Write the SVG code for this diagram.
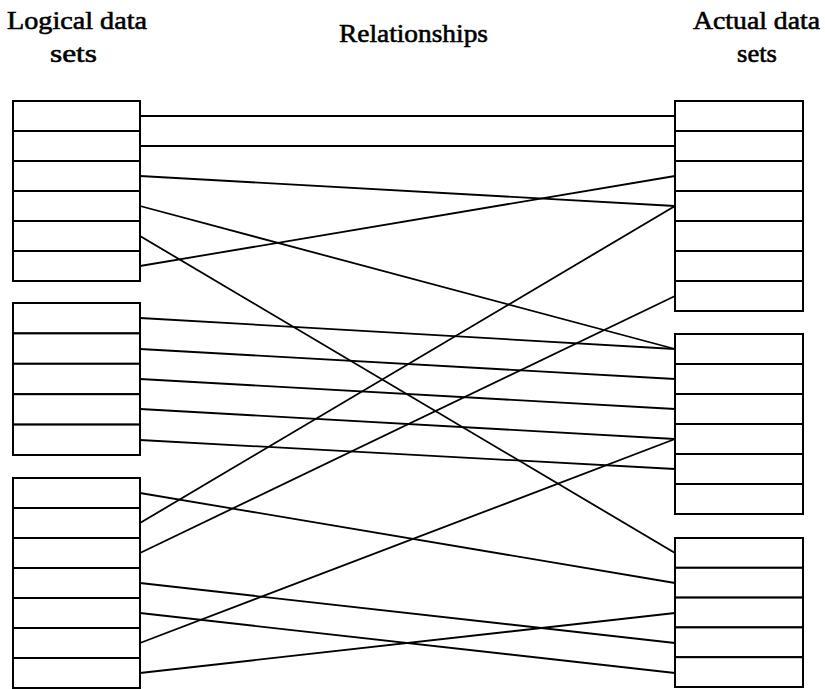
<svg xmlns="http://www.w3.org/2000/svg" width="825" height="689" viewBox="0 0 825 689">
<style>
.row{fill:#fff;stroke:#000;stroke-width:2}
.c line{stroke:#000;stroke-width:1.8;fill:none}
.t{font-family:"Liberation Serif","Times New Roman",serif;font-size:26px;fill:#000;stroke:#000;stroke-width:0.6}
</style>
<rect width="825" height="689" fill="#fff"/>
<g id="labels">
<text class="t" x="7" y="29" textLength="140" lengthAdjust="spacingAndGlyphs">Logical data</text>
<text class="t" x="50" y="62" textLength="47" lengthAdjust="spacingAndGlyphs">sets</text>
<text class="t" x="339" y="42" textLength="149" lengthAdjust="spacingAndGlyphs">Relationships</text>
<text class="t" x="693" y="29" textLength="127" lengthAdjust="spacingAndGlyphs">Actual data</text>
<text class="t" x="737" y="62" textLength="40" lengthAdjust="spacingAndGlyphs">sets</text>
</g>
<g id="connectors" class="c">
<line x1="140" y1="116" x2="675" y2="116"/>
<line x1="140" y1="146" x2="675" y2="146"/>
<line x1="140" y1="176" x2="675" y2="206"/>
<line x1="140" y1="206" x2="675" y2="349"/>
<line x1="140" y1="236" x2="675" y2="553"/>
<line x1="140" y1="266" x2="675" y2="176"/>
<line x1="140" y1="318" x2="675" y2="349"/>
<line x1="140" y1="349" x2="675" y2="379"/>
<line x1="140" y1="379" x2="675" y2="409"/>
<line x1="140" y1="409" x2="675" y2="439"/>
<line x1="140" y1="440" x2="675" y2="469"/>
<line x1="140" y1="493" x2="675" y2="583"/>
<line x1="140" y1="523" x2="675" y2="206"/>
<line x1="140" y1="553" x2="675" y2="296"/>
<line x1="140" y1="583" x2="675" y2="643"/>
<line x1="140" y1="613" x2="675" y2="673"/>
<line x1="140" y1="643" x2="675" y2="439"/>
<line x1="140" y1="673" x2="675" y2="613"/>
</g>
<g id="logical-1">
<rect class="row" x="13" y="101" width="127" height="30"/>
<rect class="row" x="13" y="131" width="127" height="30"/>
<rect class="row" x="13" y="161" width="127" height="30"/>
<rect class="row" x="13" y="191" width="127" height="30"/>
<rect class="row" x="13" y="221" width="127" height="30"/>
<rect class="row" x="13" y="251" width="127" height="30"/>
</g>
<g id="logical-2">
<rect class="row" x="13" y="303" width="127" height="30.4"/>
<rect class="row" x="13" y="333.4" width="127" height="30.4"/>
<rect class="row" x="13" y="363.8" width="127" height="30.4"/>
<rect class="row" x="13" y="394.2" width="127" height="30.4"/>
<rect class="row" x="13" y="424.6" width="127" height="30.4"/>
</g>
<g id="logical-3">
<rect class="row" x="13" y="478" width="127" height="30"/>
<rect class="row" x="13" y="508" width="127" height="30"/>
<rect class="row" x="13" y="538" width="127" height="30"/>
<rect class="row" x="13" y="568" width="127" height="30"/>
<rect class="row" x="13" y="598" width="127" height="30"/>
<rect class="row" x="13" y="628" width="127" height="30"/>
<rect class="row" x="13" y="658" width="127" height="30"/>
</g>
<g id="actual-1">
<rect class="row" x="675" y="101" width="128" height="30"/>
<rect class="row" x="675" y="131" width="128" height="30"/>
<rect class="row" x="675" y="161" width="128" height="30"/>
<rect class="row" x="675" y="191" width="128" height="30"/>
<rect class="row" x="675" y="221" width="128" height="30"/>
<rect class="row" x="675" y="251" width="128" height="30"/>
<rect class="row" x="675" y="281" width="128" height="30"/>
</g>
<g id="actual-2">
<rect class="row" x="675" y="334" width="128" height="30"/>
<rect class="row" x="675" y="364" width="128" height="30"/>
<rect class="row" x="675" y="394" width="128" height="30"/>
<rect class="row" x="675" y="424" width="128" height="30"/>
<rect class="row" x="675" y="454" width="128" height="30"/>
<rect class="row" x="675" y="484" width="128" height="30"/>
</g>
<g id="actual-3">
<rect class="row" x="675" y="538" width="128" height="29.8"/>
<rect class="row" x="675" y="567.8" width="128" height="29.8"/>
<rect class="row" x="675" y="597.6" width="128" height="29.8"/>
<rect class="row" x="675" y="627.4" width="128" height="29.8"/>
<rect class="row" x="675" y="657.2" width="128" height="29.8"/>
</g>
</svg>
